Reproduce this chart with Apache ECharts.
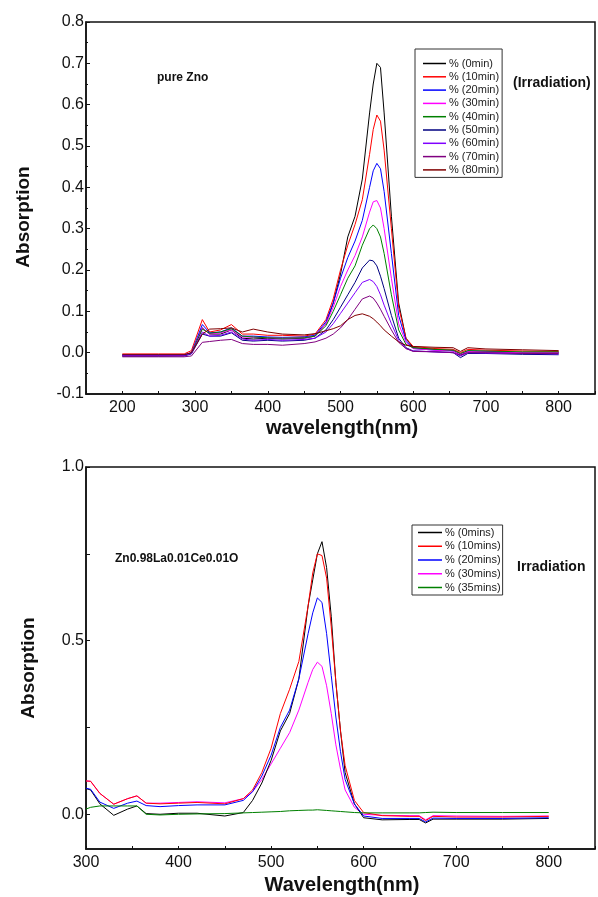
<!DOCTYPE html>
<html>
<head>
<meta charset="utf-8">
<script src="https://cdn.jsdelivr.net/npm/echarts@6/dist/echarts.min.js"></script>
<style>
  html, body { margin: 0; padding: 0; background: #fff; }
  #main { width: 598px; height: 897px; }
</style>
</head>
<body>
<div id="main"></div>
<script>
// top panel: pure ZnO
const znoWavelength = [200, 250, 285, 295, 310, 320, 335, 350, 365, 380, 400, 420, 450, 465, 480, 490, 500, 510, 520, 530, 540, 545, 550, 555, 560, 570, 580, 590, 600, 630, 655, 665, 675, 700, 750, 800];
const zno0  = [-0.008, -0.008, -0.007, 0.0, 0.06, 0.045, 0.045, 0.055, 0.035, 0.033, 0.035, 0.033, 0.035, 0.04, 0.07, 0.12, 0.19, 0.28, 0.33, 0.42, 0.58, 0.65, 0.70, 0.69, 0.58, 0.33, 0.12, 0.035, 0.012, 0.008, 0.005, -0.005, 0.003, 0.002, 0.0, 0.0];
const zno10 = [-0.003, -0.003, -0.003, 0.005, 0.08, 0.05, 0.055, 0.068, 0.045, 0.045, 0.042, 0.042, 0.04, 0.045, 0.08, 0.13, 0.2, 0.26, 0.31, 0.37, 0.48, 0.54, 0.575, 0.56, 0.49, 0.3, 0.11, 0.035, 0.015, 0.01, 0.008, 0.0, 0.008, 0.006, 0.004, 0.003];
const zno20 = [-0.005, -0.005, -0.005, 0.0, 0.068, 0.048, 0.05, 0.06, 0.04, 0.04, 0.038, 0.037, 0.038, 0.042, 0.075, 0.12, 0.18, 0.23, 0.27, 0.32, 0.40, 0.44, 0.458, 0.445, 0.39, 0.24, 0.09, 0.03, 0.01, 0.006, 0.004, -0.004, 0.004, 0.003, 0.0, 0.0];
const zno30 = [-0.006, -0.006, -0.006, -0.001, 0.06, 0.045, 0.048, 0.055, 0.038, 0.037, 0.036, 0.035, 0.036, 0.04, 0.07, 0.11, 0.16, 0.2, 0.235, 0.28, 0.34, 0.365, 0.368, 0.35, 0.3, 0.18, 0.07, 0.025, 0.01, 0.006, 0.004, -0.004, 0.003, 0.002, 0.0, 0.0];
const zno40 = [-0.006, -0.006, -0.006, -0.001, 0.057, 0.047, 0.05, 0.058, 0.04, 0.038, 0.036, 0.035, 0.036, 0.04, 0.065, 0.1, 0.14, 0.18, 0.21, 0.26, 0.3, 0.309, 0.3, 0.28, 0.24, 0.14, 0.055, 0.02, 0.012, 0.008, 0.006, -0.002, 0.005, 0.004, 0.002, 0.002];
const zno50 = [-0.008, -0.008, -0.008, -0.003, 0.045, 0.04, 0.04, 0.048, 0.03, 0.028, 0.03, 0.028, 0.03, 0.035, 0.055, 0.08, 0.11, 0.14, 0.17, 0.205, 0.224, 0.222, 0.21, 0.185, 0.155, 0.09, 0.035, 0.012, 0.004, 0.002, 0.0, -0.012, -0.002, -0.002, -0.004, -0.005];
const zno60 = [-0.007, -0.007, -0.007, -0.002, 0.05, 0.04, 0.042, 0.05, 0.033, 0.03, 0.032, 0.03, 0.032, 0.035, 0.05, 0.07, 0.095, 0.12, 0.145, 0.17, 0.177, 0.172, 0.16, 0.14, 0.115, 0.07, 0.03, 0.01, 0.004, 0.002, 0.0, -0.008, 0.0, -0.001, -0.002, -0.003];
const zno70 = [-0.01, -0.01, -0.01, -0.008, 0.025, 0.027, 0.03, 0.032, 0.022, 0.02, 0.02, 0.018, 0.022, 0.026, 0.035, 0.045, 0.06, 0.08, 0.105, 0.13, 0.137, 0.132, 0.12, 0.105, 0.088, 0.055, 0.025, 0.01, 0.003, 0.002, 0.0, -0.006, 0.0, 0.0, -0.002, -0.002];
const zno80 = [-0.005, -0.005, -0.005, 0.0, 0.045, 0.057, 0.058, 0.06, 0.05, 0.057, 0.05, 0.045, 0.043, 0.046, 0.053, 0.058, 0.065, 0.08, 0.09, 0.094, 0.088, 0.082, 0.074, 0.065, 0.055, 0.04, 0.026, 0.018, 0.015, 0.013, 0.012, 0.003, 0.012, 0.009, 0.007, 0.005];
const znoNames = ['% (0min)', '% (10min)', '% (20min)', '% (30min)', '% (40min)', '% (50min)', '% (60min)', '% (70min)', '% (80min)'];
const znoColors = ['#000000', '#ff0000', '#0000ff', '#ff00ff', '#008000', '#000080', '#8000ff', '#800080', '#800000'];

// bottom panel: Zn0.98La0.01Ce0.01O
const dopedWavelength = [300, 305, 315, 330, 345, 355, 365, 380, 400, 420, 450, 470, 480, 490, 500, 510, 520, 530, 540, 545, 550, 555, 560, 565, 570, 575, 580, 590, 600, 620, 650, 660, 667, 675, 700, 750, 800];
const doped0  = [0.074, 0.07, 0.03, -0.003, 0.015, 0.024, 0.002, 0.0, 0.003, 0.003, -0.005, 0.005, 0.04, 0.09, 0.155, 0.24, 0.29, 0.39, 0.6, 0.675, 0.75, 0.785, 0.71, 0.57, 0.38, 0.24, 0.12, 0.03, -0.01, -0.016, -0.015, -0.015, -0.025, -0.014, -0.014, -0.014, -0.012];
const doped10 = [0.096, 0.095, 0.06, 0.029, 0.045, 0.053, 0.032, 0.03, 0.032, 0.034, 0.03, 0.045, 0.07, 0.12, 0.19, 0.29, 0.36, 0.44, 0.6, 0.695, 0.75, 0.745, 0.68, 0.54, 0.38, 0.24, 0.14, 0.04, 0.005, -0.004, -0.006, -0.006, -0.018, -0.006, -0.008, -0.008, -0.006];
const doped20 = [0.075, 0.072, 0.035, 0.017, 0.032, 0.038, 0.025, 0.022, 0.025, 0.027, 0.027, 0.04, 0.065, 0.11, 0.17, 0.25, 0.3, 0.39, 0.52, 0.58, 0.623, 0.61, 0.52, 0.4, 0.28, 0.18, 0.1, 0.03, -0.005, -0.012, -0.012, -0.012, -0.022, -0.011, -0.012, -0.012, -0.01];
const doped30 = [0.096, 0.095, 0.06, 0.029, 0.045, 0.053, 0.032, 0.032, 0.034, 0.036, 0.033, 0.045, 0.065, 0.1, 0.145, 0.19, 0.235, 0.3, 0.38, 0.417, 0.438, 0.426, 0.37, 0.29, 0.2, 0.13, 0.07, 0.02, 0.0, -0.003, -0.004, -0.004, -0.016, -0.004, -0.005, -0.006, -0.005];
const doped35 = [0.015, 0.02, 0.024, 0.024, 0.024, 0.024, 0.0, -0.002, 0.0, 0.001, 0.002, 0.004, 0.005, 0.006, 0.007, 0.008, 0.01, 0.011, 0.012, 0.012, 0.013, 0.012, 0.011, 0.01, 0.009, 0.008, 0.007, 0.005, 0.004, 0.004, 0.004, 0.004, 0.005, 0.006, 0.005, 0.005, 0.005];
const dopedNames = ['% (0mins)', '% (10mins)', '% (20mins)', '% (30mins)', '% (35mins)'];
const dopedColors = ['#000000', '#ff0000', '#0000ff', '#ff00ff', '#008000'];

const topYTicks = [-0.1, 0.0, 0.1, 0.2, 0.3, 0.4, 0.5, 0.6, 0.7, 0.8];
const bottomYLabels = [0.0, 0.5, 1.0];
const bottomYTicks = [0.0, 0.25, 0.5, 0.75, 1.0];

const FONT = '"Liberation Sans", Arial, sans-serif';

const zip = (xs, ys) => xs.map((x, i) => [x, ys[i]]);

const znoValues = [zno0, zno10, zno20, zno30, zno40, zno50, zno60, zno70, zno80];
const dopedValues = [doped0, doped10, doped20, doped30, doped35];

const series = [];
znoValues.forEach((vals, i) => {
  series.push({
    name: znoNames[i],
    type: 'line',
    xAxisIndex: 0,
    yAxisIndex: 0,
    data: zip(znoWavelength, vals),
    symbol: 'none',
    smooth: false,
    lineStyle: { width: 1, color: znoColors[i] },
    itemStyle: { color: znoColors[i] },
    z: 2
  });
});
dopedValues.forEach((vals, i) => {
  series.push({
    name: dopedNames[i],
    type: 'line',
    xAxisIndex: 1,
    yAxisIndex: 1,
    data: zip(dopedWavelength, vals),
    symbol: 'none',
    smooth: false,
    lineStyle: { width: 1, color: dopedColors[i] },
    itemStyle: { color: dopedColors[i] },
    // magenta sits under red where they coincide
    z: i === 3 ? 1 : 2
  });
});

const axisLine = { show: true, onZero: false, lineStyle: { color: '#111', width: 1.5 } };
const axisLabel = { color: '#111', fontSize: 16, fontFamily: FONT };
const legendText = { fontSize: 11, color: '#222', fontFamily: FONT, padding: [0, 0, 0, -2] };

const chart = echarts.init(document.getElementById('main'));
chart.setOption({
  animation: false,
  backgroundColor: '#fff',
  grid: [
    { left: 86, top: 22, width: 520, height: 372, show: true, borderColor: '#111', borderWidth: 1.5, containLabel: false },
    { left: 86, top: 467, width: 511, height: 382, show: true, borderColor: '#111', borderWidth: 1.5, containLabel: false }
  ],
  legend: [
    {
      data: znoNames,
      orient: 'vertical',
      left: 415,
      top: 49,
      padding: [9, 3, 2, 8],
      icon: 'rect',
      itemWidth: 23,
      itemHeight: 1.5,
      itemGap: 2.3,
      borderColor: '#333',
      borderWidth: 1,
      textStyle: legendText,
      selectedMode: false
    },
    {
      data: dopedNames,
      orient: 'vertical',
      left: 412,
      top: 525,
      padding: [2, 2, 2, 6],
      icon: 'rect',
      itemWidth: 24,
      itemHeight: 1.5,
      itemGap: 2.75,
      borderColor: '#333',
      borderWidth: 1,
      textStyle: legendText,
      selectedMode: false
    }
  ],
  xAxis: [
    {
      type: 'value',
      gridIndex: 0,
      min: 150,
      max: 850,
      interval: 50,
      axisLine: axisLine,
      axisTick: { inside: true, length: 3, lineStyle: { color: '#111' } },
      axisLabel: Object.assign({}, axisLabel, {
        margin: 6,
        formatter: v => (v % 100 === 0 && v >= 200 && v <= 800 ? String(v) : '')
      }),
      splitLine: { show: false }
    },
    {
      type: 'value',
      gridIndex: 1,
      min: 300,
      max: 850,
      interval: 50,
      axisLine: axisLine,
      axisTick: { inside: true, length: 3, lineStyle: { color: '#111' } },
      axisLabel: Object.assign({}, axisLabel, {
        margin: 6,
        formatter: v => (v % 100 === 0 && v <= 800 ? String(v) : '')
      }),
      splitLine: { show: false }
    }
  ],
  yAxis: [
    {
      type: 'value',
      gridIndex: 0,
      min: -0.1,
      max: 0.8,
      interval: 0.1,
      axisLine: axisLine,
      axisTick: { inside: true, length: 4, customValues: topYTicks, lineStyle: { color: '#111' } },
      minorTick: { show: true, splitNumber: 2, length: 2, lineStyle: { color: '#111' } },
      axisLabel: Object.assign({}, axisLabel, {
        margin: 2,
        customValues: topYTicks,
        formatter: v => v.toFixed(1)
      }),
      splitLine: { show: false }
    },
    {
      type: 'value',
      gridIndex: 1,
      min: -0.1,
      max: 1.0,
      axisLine: axisLine,
      axisTick: { inside: true, length: 4, customValues: bottomYTicks, lineStyle: { color: '#111' } },
      axisLabel: Object.assign({}, axisLabel, {
        margin: 2,
        customValues: bottomYLabels,
        formatter: v => v.toFixed(1)
      }),
      splitLine: { show: false }
    }
  ],
  graphic: [
    { type: 'text', x: 24, y: 217, rotation: Math.PI / 2, style: { text: 'Absorption', fontSize: 19, fontWeight: 'bold', fontFamily: FONT, fill: '#111', align: 'center', verticalAlign: 'middle' } },
    { type: 'text', x: 342, y: 428, style: { text: 'wavelength(nm)', fontSize: 20, fontWeight: 'bold', fontFamily: FONT, fill: '#111', align: 'center', verticalAlign: 'middle' } },
    { type: 'text', x: 157, y: 78, style: { text: 'pure Zno', fontSize: 12, fontWeight: 'bold', fontFamily: FONT, fill: '#111', verticalAlign: 'middle' } },
    { type: 'text', x: 513, y: 83, style: { text: '(Irradiation)', fontSize: 14, fontWeight: 'bold', fontFamily: FONT, fill: '#111', verticalAlign: 'middle' } },
    { type: 'text', x: 29, y: 668, rotation: Math.PI / 2, style: { text: 'Absorption', fontSize: 19, fontWeight: 'bold', fontFamily: FONT, fill: '#111', align: 'center', verticalAlign: 'middle' } },
    { type: 'text', x: 342, y: 885, style: { text: 'Wavelength(nm)', fontSize: 20, fontWeight: 'bold', fontFamily: FONT, fill: '#111', align: 'center', verticalAlign: 'middle' } },
    { type: 'text', x: 115, y: 559, style: { text: 'Zn0.98La0.01Ce0.01O', fontSize: 12, fontWeight: 'bold', fontFamily: FONT, fill: '#111', verticalAlign: 'middle' } },
    { type: 'text', x: 517, y: 567, style: { text: 'Irradiation', fontSize: 14, fontWeight: 'bold', fontFamily: FONT, fill: '#111', verticalAlign: 'middle' } }
  ],
  series: series
});
</script>
</body>
</html>
